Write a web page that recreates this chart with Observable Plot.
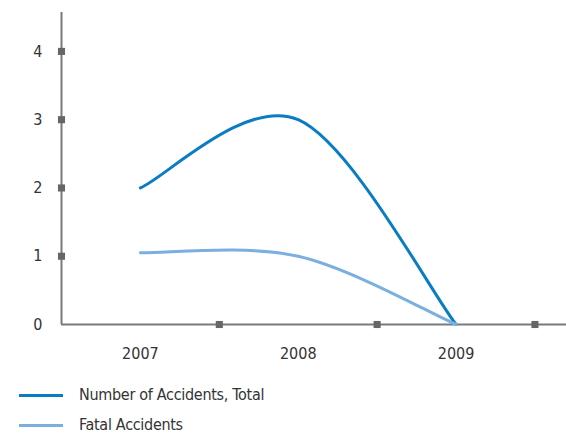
<!DOCTYPE html>
<html>
<head>
<meta charset="utf-8">
<script src="https://cdn.jsdelivr.net/npm/d3@7"></script>
<script src="https://cdn.jsdelivr.net/npm/@observablehq/plot@0.6"></script>
<style>
  body { margin: 0; background: #fff; font-family: "DejaVu Sans Condensed", "Liberation Sans", sans-serif; }
  #chart svg { display: block; }
  .legend { position: relative; height: 65px; }
  .item { position: absolute; left: 0; height: 20px; }
  .swatch { position: absolute; left: 19px; width: 44px; height: 3px; top: 9px; }
  .label { position: absolute; left: 79px; top: 0; font-size: 16px; letter-spacing: -0.3px; color: #333; white-space: nowrap; line-height: 20px; }
</style>
</head>
<body>
<div id="chart"></div>
<div class="legend" id="legend"></div>
<script>
const years = [2007, 2008, 2009];
const totalAccidents = [2, 3, 0];
const fatalAccidents = [1.05, 1, 0];
const yTicks = [0, 1, 2, 3, 4];
const seriesNames = ["Number of Accidents, Total", "Fatal Accidents"];
const seriesColors = ["#0a7cc4", "#7aafe0"];

const rows = [
  ...years.map((year, i) => ({year, value: totalAccidents[i], series: seriesNames[0]})),
  ...years.map((year, i) => ({year, value: fatalAccidents[i], series: seriesNames[1]}))
];
const separators = years.map(y => y + 0.5);
const axisGray = "#7a7a7a";
const markGray = "#666666";

// Smoothed line: cubic Bézier segments whose control points sit one sixth of
// the neighbour-to-neighbour chord away from each vertex (end points reuse
// themselves as the missing neighbour).
function smoothCurve(context) {
  let pts = [];
  return {
    areaStart() {},
    areaEnd() {},
    lineStart() { pts = []; },
    point(x, y) { pts.push([+x, +y]); },
    lineEnd() {
      const n = pts.length;
      if (!n) return;
      context.moveTo(pts[0][0], pts[0][1]);
      if (n === 2) { context.lineTo(pts[1][0], pts[1][1]); return; }
      for (let i = 0; i < n - 1; i++) {
        const p0 = pts[Math.max(i - 1, 0)], p1 = pts[i], p2 = pts[i + 1], p3 = pts[Math.min(i + 2, n - 1)];
        context.bezierCurveTo(
          p1[0] + (p2[0] - p0[0]) / 6, p1[1] + (p2[1] - p0[1]) / 6,
          p2[0] - (p3[0] - p1[0]) / 6, p2[1] - (p3[1] - p1[1]) / 6,
          p2[0], p2[1]
        );
      }
    }
  };
}

const chart = Plot.plot({
  width: 566,
  height: 370,
  marginTop: 12,
  marginBottom: 46,
  marginLeft: 61,
  marginRight: 0,
  x: {domain: [2006.5, 2009.7], axis: null},
  y: {domain: [0, 4.57], axis: null},
  style: {fontFamily: "'DejaVu Sans Condensed', sans-serif", fontSize: "16px"},
  marks: [
    Plot.ruleX([2006.5], {y1: 0, y2: 4.57, stroke: axisGray, strokeWidth: 2}),
    Plot.ruleY([0], {stroke: axisGray, strokeWidth: 2}),
    Plot.line(rows, {
      x: "year", y: "value", z: "series",
      stroke: d => d.series,
      strokeWidth: 3,
      curve: smoothCurve
    }),
    Plot.dot(yTicks.filter(t => t > 0), {x: 2006.5, y: d => d, symbol: "square", r: 4, fill: markGray, stroke: null}),
    Plot.dot(separators, {x: d => d, y: 0, symbol: "square", r: 4, fill: markGray, stroke: null}),
    Plot.text(yTicks, {x: 2006.5, y: d => d, text: d => String(d), dx: -19, textAnchor: "end", fill: "#333", fontSize: 16}),
    Plot.text(years, {x: d => d, y: 0, text: d => String(d), dy: 29, fill: "#333", fontSize: 16})
  ],
  color: {domain: seriesNames, range: seriesColors}
});
document.getElementById("chart").appendChild(chart);

const legend = document.getElementById("legend");
seriesNames.forEach((name, i) => {
  const item = document.createElement("div");
  item.className = "item";
  item.style.top = (15 + i * 30) + "px";
  const sw = document.createElement("div");
  sw.className = "swatch";
  sw.style.background = seriesColors[i];
  const lb = document.createElement("div");
  lb.className = "label";
  lb.textContent = name;
  item.appendChild(sw);
  item.appendChild(lb);
  legend.appendChild(item);
});
</script>
</body>
</html>
